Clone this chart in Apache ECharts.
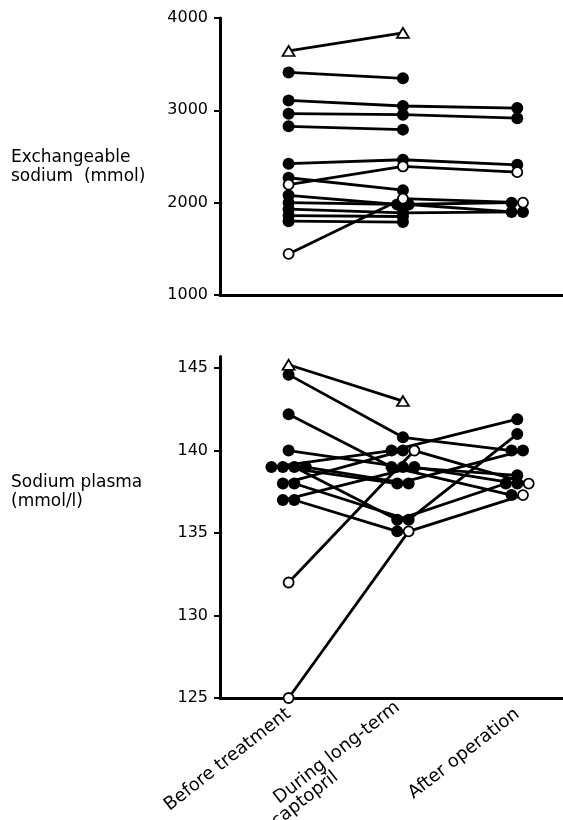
<!DOCTYPE html>
<html>
<head>
<meta charset="utf-8">
<script src="https://cdn.jsdelivr.net/npm/echarts@6/dist/echarts.min.js"></script>
<style>
  html, body { margin: 0; padding: 0; background: #fff; }
  #main { width: 563px; height: 820px; }
</style>
</head>
<body>
<div id="main"></div>
<script>
// stages on the x axis
var stages = ['Before treatment', 'During long-term\ncaptopril                ', 'After operation'];

// exchangeable sodium (mmol), one entry per patient
var exchBefore = [3643, 3411, 3107, 2964, 2827, 2422, 2196, 2270, 2080, 2000, 1930, 1860, 1800, 1445];
var exchDuring = [3839, 3347, 3047, 2953, 2791, 2465, 2392, 2135, 1980, 1980, 1890, 1850, 1790, 2044];
var exchAfter  = [null, null, 3025, 2915, null, 2410, 2330, null, 2000, 1900, 1900, null, null, 2000];
var exchMarker = ['tri', 'dot', 'dot', 'dot', 'dot', 'dot', 'open', 'dot', 'dot', 'dot', 'dot', 'dot', 'dot', 'open'];

// sodium plasma (mmol/l), one entry per patient
var plasmaBefore = [145.2, 144.6, 142.2, 140, 139, 139, 139, 139, 138, 138, 137, 137, 132, 125];
var plasmaDuring = [143.0, 140.8, 139, 139, 140, 138, 135.8, 138, 140, 135.8, 139, 135.1, 140, 135.1];
var plasmaAfter  = [null, 140, 137.3, 138.5, 141.9, 140, 138, null, null, 141.0, 138, null, 138, 137.3];
var plasmaMarker = ['tri', 'dot', 'dot', 'dot', 'dot', 'dot', 'dot', 'dot', 'dot', 'dot', 'dot', 'dot', 'open', 'open'];

// tick labels
var exchTicks = [1000, 2000, 3000, 4000];
var plasmaTicks = [125, 130, 135, 140, 145];

var font = 'DejaVu Sans';
var step = 0.1; // side-by-side spacing for equal values

// build lines + markers for one panel
function panelSeries(cols, marker, gi) {
    var xs = cols.map(function (col, c) {
        var groups = {};
        col.forEach(function (v, i) {
            if (v == null) return;
            (groups[v] = groups[v] || []).push(i);
        });
        var out = [];
        Object.keys(groups).forEach(function (k) {
            var g = groups[k];
            g.forEach(function (i, j) {
                out[i] = c + (j - (g.length - 1) / 2) * step;
            });
        });
        return out;
    });
    var series = [];
    var marks = { dot: [], open: [], tri: [] };
    marker.forEach(function (m, i) {
        var pts = [];
        cols.forEach(function (col, c) {
            if (col[i] != null) {
                pts.push([xs[c][i], col[i]]);
                marks[m].push([xs[c][i], col[i]]);
            }
        });
        series.push({
            type: 'line',
            xAxisIndex: gi,
            yAxisIndex: gi,
            data: pts,
            symbol: 'none',
            silent: true,
            z: 2,
            lineStyle: { color: '#000', width: 2.8 }
        });
    });
    series.push({
        type: 'scatter', xAxisIndex: gi, yAxisIndex: gi, z: 3,
        data: marks.dot, symbol: 'circle', symbolSize: 12,
        itemStyle: { color: '#000', opacity: 1 }
    });
    series.push({
        type: 'scatter', xAxisIndex: gi, yAxisIndex: gi, z: 4,
        data: marks.open, symbol: 'circle', symbolSize: 10,
        itemStyle: { color: '#fff', borderColor: '#000', borderWidth: 1.8, opacity: 1 }
    });
    series.push({
        type: 'scatter', xAxisIndex: gi, yAxisIndex: gi, z: 4,
        data: marks.tri, symbol: 'triangle', symbolSize: [12, 10],
        itemStyle: { color: '#fff', borderColor: '#000', borderWidth: 1.8, opacity: 1 }
    });
    return series;
}

function xAxis(gi, showLabels) {
    return {
        type: 'value',
        gridIndex: gi,
        min: -0.6,
        max: 2.4,
        splitLine: { show: false },
        axisTick: { show: false },
        axisLine: { show: true, onZero: false, lineStyle: { color: '#000', width: 3 } },
        axisLabel: {
            show: showLabels,
            customValues: [0, 1, 2],
            formatter: function (v) { return stages[Math.round(v)]; },
            rotate: 38,
            margin: 14,
            color: '#000',
            fontSize: 18,
            lineHeight: 17,
            fontFamily: font
        }
    };
}

function yAxis(gi, min, max, ticks) {
    return {
        type: 'value',
        gridIndex: gi,
        min: min,
        max: max,
        splitLine: { show: false },
        axisLine: { show: true, onZero: false, lineStyle: { color: '#000', width: 3 } },
        axisTick: { show: true, customValues: ticks, length: 6, lineStyle: { color: '#000', width: 2 } },
        axisLabel: {
            customValues: ticks,
            formatter: function (v) { return String(v); },
            margin: 12,
            color: '#000',
            fontSize: 16,
            fontFamily: font
        }
    };
}

var chart = echarts.init(document.getElementById('main'), null, { renderer: 'canvas' });
var option = {
    backgroundColor: '#fff',
    animation: false,
    title: [
        {
            text: 'Exchangeable\nsodium  (mmol)',
            left: 6, top: 143,
            textStyle: { color: '#000', fontSize: 17, fontWeight: 'normal', lineHeight: 19, fontFamily: font }
        },
        {
            text: 'Sodium plasma\n(mmol/l)',
            left: 6, top: 468,
            textStyle: { color: '#000', fontSize: 17, fontWeight: 'normal', lineHeight: 19, fontFamily: font }
        }
    ],
    grid: [
        { left: 220, top: 18, width: 343, height: 277, containLabel: false, outerBoundsMode: 'none' },
        { left: 220, top: 356.5, width: 343, height: 341.5, containLabel: false, outerBoundsMode: 'none' }
    ],
    xAxis: [xAxis(0, false), xAxis(1, true)],
    yAxis: [
        yAxis(0, 1000, 4000, exchTicks),
        yAxis(1, 125, 145.7, plasmaTicks)
    ],
    series: panelSeries([exchBefore, exchDuring, exchAfter], exchMarker, 0)
        .concat(panelSeries([plasmaBefore, plasmaDuring, plasmaAfter], plasmaMarker, 1))
};
chart.setOption(option);
</script>
</body>
</html>
